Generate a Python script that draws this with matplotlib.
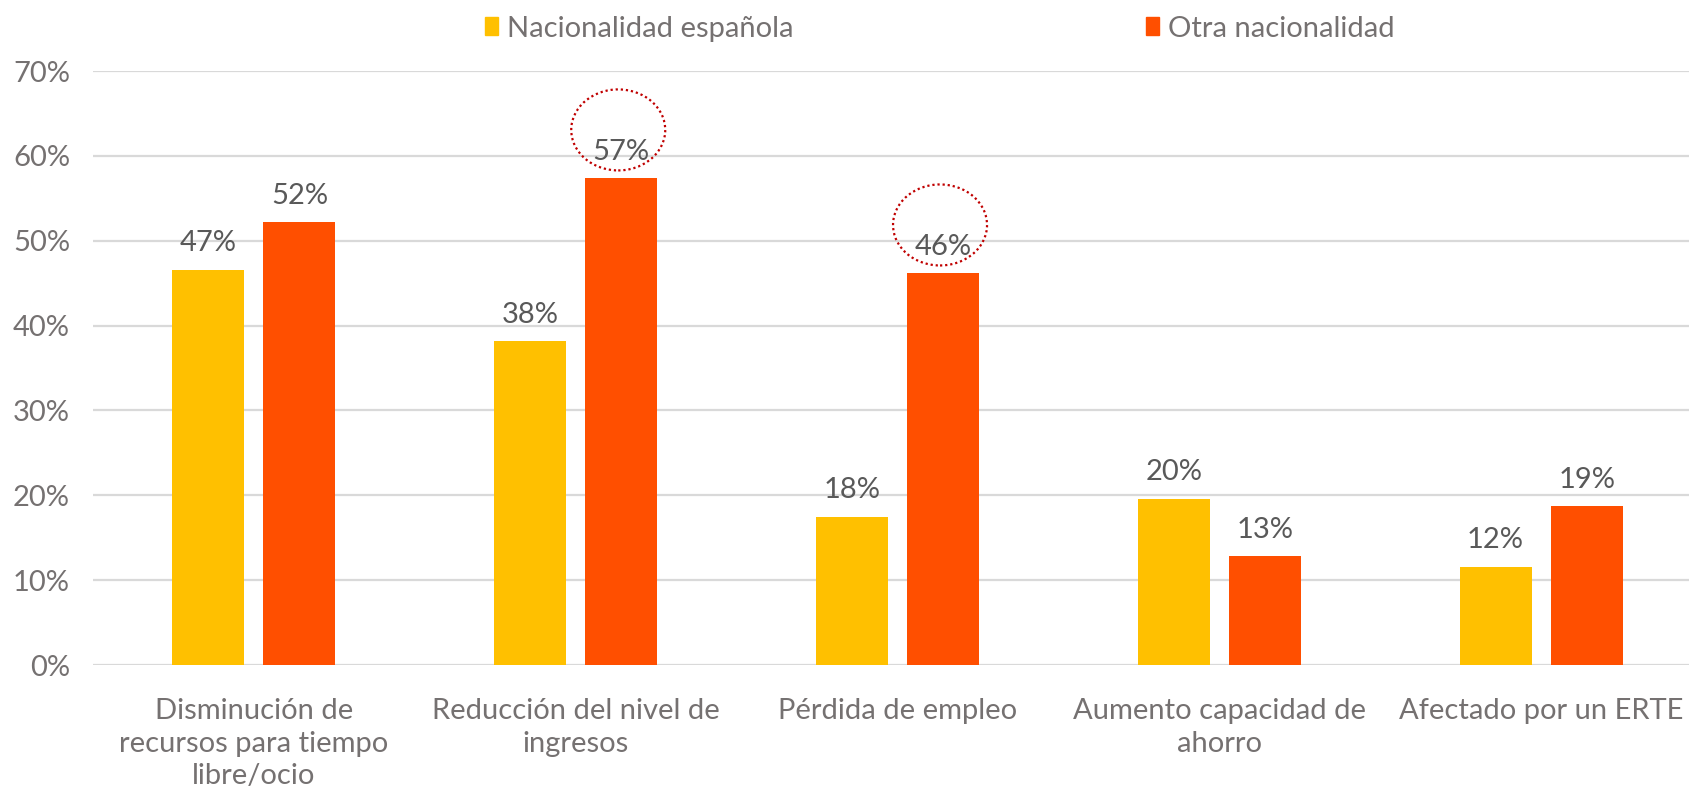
import matplotlib
matplotlib.use("Agg")
import matplotlib.pyplot as plt
import numpy as np
from matplotlib.patches import Ellipse

plt.rcParams.update({"font.family": ["Lato", "DejaVu Sans"]})

# ---------------------------------------------------------------------------
# Data
# ---------------------------------------------------------------------------
categories = [
    "Disminución de\nrecursos para tiempo\nlibre/ocio",
    "Reducción del nivel de\ningresos",
    "Pérdida de empleo",
    "Aumento capacidad de\nahorro",
    "Afectado por un ERTE",
]
series_names = ["Nacionalidad española", "Otra nacionalidad"]
espanola = [46.6, 38.2, 17.5, 19.6, 11.6]
otra = [52.2, 57.4, 46.2, 12.8, 18.7]
highlighted = [1, 2]  # categories whose "Otra" value is circled
y_ticks = [0, 10, 20, 30, 40, 50, 60, 70]

YELLOW = "#FFC000"
RED = "#FF4F00"
GRID = "#D9D9D9"
LABEL = "#595959"
TICK = "#757171"

fig = plt.figure(figsize=(16.9, 7.92), dpi=100)
# plot area runs a little past the right edge, as in the original crop
ax = fig.add_axes([93 / 1690, 127 / 792, 1609 / 1690, 594 / 792])

x = np.arange(len(categories))
w = 0.224
off = 0.1415
ax.bar(x - off, espanola, w, color=YELLOW, label=series_names[0], zorder=2)
ax.bar(x + off, otra, w, color=RED, label=series_names[1], zorder=2)

ax.set_xlim(-0.5, len(categories) - 0.5)
ax.set_ylim(0, 70)
ax.set_yticks(y_ticks)
ax.set_yticklabels([f"{t}%" for t in y_ticks])
ax.yaxis.grid(True, color=GRID, lw=1.6, zorder=0)
ax.set_axisbelow(True)
for s in ax.spines.values():
    s.set_visible(False)
ax.tick_params(axis="y", length=0, pad=16.5, labelsize=21, labelcolor=TICK)
ax.set_xticks(x)
ax.set_xticklabels(categories, fontsize=21, color=TICK, linespacing=1.33)
ax.tick_params(axis="x", length=0, pad=23.5)

# value labels
for xs, vals in ((x - off, espanola), (x + off, otra)):
    for xi, v in zip(xs, vals):
        ax.annotate(f"{v:.0f}%", (xi, v), xytext=(0, 9.5), textcoords="offset points",
                    ha="center", va="bottom", fontsize=21, color=LABEL)

# dotted circles around highlighted values (placed in pixels above the bar)
for i in highlighted:
    cx, cy = ax.transData.transform((x[i] + off, otra[i]))
    e = Ellipse((cx - 3, cy + 48), 94, 81, fill=False, ec="#C00000", lw=1.6,
                ls=(0, (1, 1.3)), transform=None, zorder=4)
    fig.add_artist(e)

# legend
h1 = plt.Rectangle((0, 0), 1, 1, color=YELLOW)
h2 = plt.Rectangle((0, 0), 1, 1, color=RED)
fig.legend([h1, h2], series_names, loc="center", bbox_to_anchor=(0.556, 0.964),
           ncol=2, frameon=False, fontsize=21, labelcolor=TICK,
           handlelength=0.45, handleheight=0.55, handletextpad=0.3,
           columnspacing=12.1)

fig.savefig("out.png", dpi=100)
